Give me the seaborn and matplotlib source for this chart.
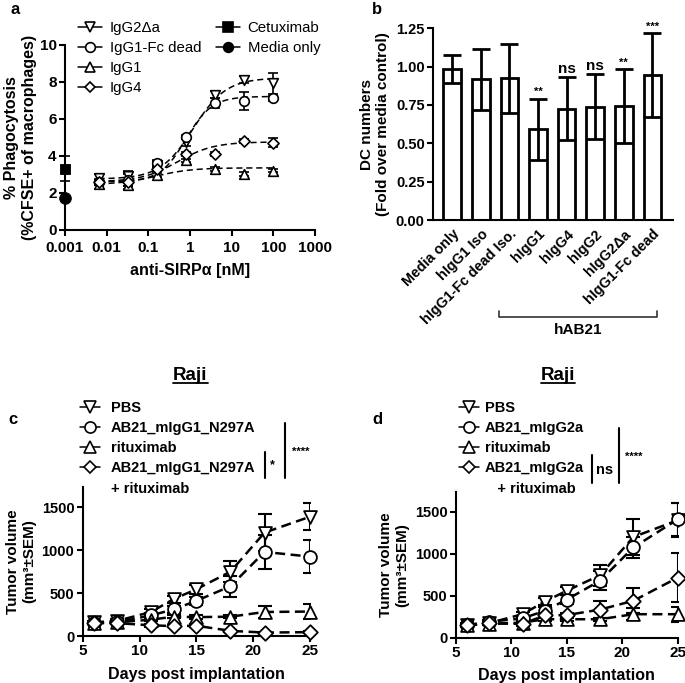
import numpy as np
import pandas as pd
import matplotlib
matplotlib.use("Agg")
import matplotlib.pyplot as plt
import matplotlib.transforms as mtransforms
from matplotlib.lines import Line2D
from matplotlib.ticker import NullLocator
import seaborn as sns

# ---- panel a: phagocytosis vs anti-SIRPa concentration ----
conc = [0.0064, 0.032, 0.16, 0.8, 4, 20, 100]
igg2da = [2.8, 2.9, 3.5, 4.75, 7.3, 8.1, 7.9]
igg2da_err = [0.2, 0.3, 0.1, 0.2, 0.2, 0.2, 0.55]
fcdead = [2.6, 2.7, 3.6, 5.0, 6.85, 6.95, 7.1]
fcdead_err = [0.15, 0.35, 0.15, 0.1, 0.25, 0.5, 0.15]
igg1 = [2.5, 2.45, 2.95, 3.75, 3.3, 3.0, 3.2]
igg1_err = [0.1, 0.1, 0.1, 0.1, 0.1, 0.1, 0.1]
igg4 = [2.6, 2.6, 3.3, 4.1, 4.1, 4.8, 4.7]
igg4_err = [0.1, 0.4, 0.1, 0.1, 0.1, 0.1, 0.25]
# fitted curve parameters: bottom, top, EC50, hill
fit_igg2da = (2.75, 8.2, 1.2, 1.1)
fit_fcdead = (2.6, 7.2, 0.8, 1.4)
fit_igg1 = (2.45, 3.35, 0.15, 1.0)
fit_igg4 = (2.6, 4.75, 0.5, 1.0)
cetux_x, cetux_y, cetux_err = 0.001, 3.3, 0.67
media_x, media_y = 0.001, 1.7

# ---- panel b: DC numbers ----
b_groups = ["Media only", "hIgG1 Iso", "hIgG1-Fc dead Iso.", "hIgG1", "hIgG4",
            "hIgG2", "hIgG2\u0394a", "hIgG1-Fc dead"]
b_means = [0.985, 0.918, 0.925, 0.592, 0.727, 0.74, 0.744, 0.944]
b_err = [0.09, 0.2, 0.225, 0.2, 0.205, 0.215, 0.24, 0.275]
b_sig = ["", "", "", "**", "ns", "ns", "**", "***"]

# ---- panels c/d: Raji tumor volume ----
days = [6, 8, 11, 13, 15, 18, 21, 25]
c_pbs = [160, 175, 280, 430, 545, 750, 1205, 1390]
c_pbs_err = [20, 20, 30, 40, 50, 125, 215, 160]
c_ab21 = [150, 160, 240, 310, 410, 580, 980, 925]
c_ab21_err = [15, 20, 30, 40, 50, 125, 200, 190]
c_ritux = [150, 160, 190, 225, 220, 225, 280, 285]
c_ritux_err = [15, 15, 20, 20, 20, 20, 70, 85]
c_combo = [150, 150, 125, 115, 120, 60, 40, 45]
c_combo_err = [15, 15, 15, 15, 15, 10, 10, 10]

d_pbs = [150, 175, 280, 430, 560, 745, 1200, 1400]
d_pbs_err = [20, 20, 30, 40, 50, 125, 210, 200]
d_ab21 = [150, 190, 230, 320, 455, 680, 1075, 1410]
d_ab21_err = [15, 20, 30, 40, 50, 110, 130, 200]
d_ritux = [150, 165, 180, 220, 220, 220, 280, 280]
d_ritux_err = [15, 15, 20, 20, 20, 20, 70, 90]
d_combo = [150, 170, 165, 265, 270, 335, 440, 715]
d_combo_err = [15, 15, 20, 30, 30, 100, 150, 290]

sns.set_theme(style="ticks")
plt.rcParams["font.family"] = ["Liberation Sans", "DejaVu Sans"]
plt.rcParams["font.weight"] = "bold"
plt.rcParams["axes.labelweight"] = "bold"
plt.rcParams["axes.linewidth"] = 1.5
plt.rcParams["xtick.major.width"] = 1.5
plt.rcParams["ytick.major.width"] = 1.5
plt.rcParams["xtick.major.size"] = 4
plt.rcParams["ytick.major.size"] = 4
plt.rcParams["xtick.color"] = "black"
plt.rcParams["ytick.color"] = "black"
plt.rcParams["axes.edgecolor"] = "black"
plt.rcParams["text.color"] = "black"
plt.rcParams["axes.labelcolor"] = "black"

W, H = 685, 683
fig = plt.figure(figsize=(6.85, 6.83), dpi=100)


def box(l, t, r, b):
    return [l / W, 1 - b / H, (r - l) / W, (b - t) / H]


def fp(x, y):
    return (x / W, 1 - y / H)


def fline(x0, y0, x1, y1, lw=1.5):
    fig.add_artist(Line2D([x0 / W, x1 / W], [1 - y0 / H, 1 - y1 / H],
                          color="black", lw=lw, transform=fig.transFigure))


ax_a = fig.add_axes(box(65, 44.5, 315, 230))
ax_b = fig.add_axes(box(433, 28.3, 673, 220))
ax_c = fig.add_axes(box(82.7, 486.7, 310, 636))
ax_d = fig.add_axes(box(456, 491.7, 677.7, 637.7))

for ax in (ax_a, ax_b, ax_c, ax_d):
    sns.despine(ax=ax)
    ax.tick_params(direction="out", pad=2)

# ---------------- panel a ----------------
series_a = [
    (igg2da, igg2da_err, "v", fit_igg2da),
    (fcdead, fcdead_err, "o", fit_fcdead),
    (igg1, igg1_err, "^", fit_igg1),
    (igg4, igg4_err, "D", fit_igg4),
]
xs = np.logspace(np.log10(conc[0]), np.log10(conc[-1]), 200)
for vals, errs, mk, (bot, top, ec50, hill) in series_a:
    curve = bot + (top - bot) / (1 + (ec50 / xs) ** hill)
    sns.lineplot(x=xs, y=curve, ax=ax_a, color="black", lw=1.1,
                 linestyle=(0, (4, 2.5)), zorder=2)
    ax_a.errorbar(conc, vals, yerr=errs, fmt="none", ecolor="black",
                  elinewidth=1.2, capsize=3.5, capthick=1.2, zorder=3)
    sns.scatterplot(x=conc, y=vals, ax=ax_a, marker=mk,
                    s=48 if mk != "D" else 32, color="white",
                    edgecolor="black", linewidth=1.2, zorder=4)
ax_a.errorbar([cetux_x], [cetux_y], yerr=[cetux_err], fmt="none", ecolor="black",
              elinewidth=1.2, capsize=3.5, capthick=1.2, clip_on=False, zorder=3)
sns.scatterplot(x=[cetux_x], y=[cetux_y], ax=ax_a, marker="s", s=60,
                color="black", edgecolor="black", clip_on=False, zorder=5)
sns.scatterplot(x=[media_x], y=[media_y], ax=ax_a, marker="o", s=70,
                color="black", edgecolor="black", clip_on=False, zorder=5)
ax_a.set_xscale("log")
ax_a.set_xlim(0.001, 1000)
ax_a.set_ylim(0, 10)
ax_a.set_xticks([0.001, 0.01, 0.1, 1, 10, 100, 1000])
ax_a.set_xticklabels(["0.001", "0.01", "0.1", "1", "10", "100", "1000"],
                     fontweight="bold", fontsize=11)
ax_a.xaxis.set_minor_locator(NullLocator())
ax_a.set_yticks([0, 2, 4, 6, 8, 10])
ax_a.set_yticklabels(["0", "2", "4", "6", "8", "10"], fontweight="bold", fontsize=11)
ax_a.tick_params(axis="x", pad=4)
ax_a.set_xlabel("anti-SIRP\u03b1 [nM]", fontsize=11.5, fontweight="bold", labelpad=6)
ax_a.set_ylabel("% Phagocytosis\n(%CFSE+ of macrophages)", fontsize=11.5,
                fontweight="bold", labelpad=2)


def hnd(mk, filled=False, ms=7, ls="-"):
    return Line2D([], [], color="black", lw=1.1, linestyle=ls, marker=mk,
                  markersize=ms, markerfacecolor="black" if filled else "white",
                  markeredgecolor="black", markeredgewidth=1.2)


fig.legend([hnd("v"), hnd("o"), hnd("^"), hnd("D", ms=5.5)],
           ["IgG2\u0394a", "IgG1-Fc dead", "IgG1", "IgG4"],
           loc="upper left", bbox_to_anchor=fp(78, 21), frameon=False,
           borderpad=0, borderaxespad=0, handlelength=1.6,
           handletextpad=0.5, labelspacing=0.4,
           prop={"size": 10.8, "weight": "normal"})
fig.legend([hnd("s", True), hnd("o", True)],
           ["Cetuximab", "Media only"],
           loc="upper left", bbox_to_anchor=fp(216, 21), frameon=False,
           borderpad=0, borderaxespad=0, handlelength=1.6,
           handletextpad=0.5, labelspacing=0.4,
           prop={"size": 10.8, "weight": "normal"})

# ---------------- panel b ----------------
df_b = pd.DataFrame({"group": b_groups, "value": b_means})
sns.barplot(data=df_b, x="group", y="value", ax=ax_b, color="white",
            saturation=1, edgecolor="black", linewidth=2, width=0.62,
            errorbar=None)
ax_b.errorbar(range(len(b_groups)), b_means, yerr=b_err, fmt="none",
              ecolor="black", elinewidth=2, capsize=6.5, capthick=2, zorder=3)
for i, s in enumerate(b_sig):
    if not s:
        continue
    if s == "ns":
        ax_b.text(i, b_means[i] + b_err[i] + 0.005, s, ha="center", va="bottom",
                  fontsize=11, fontweight="bold")
    else:
        ax_b.text(i, b_means[i] + b_err[i] + 0.01, s, ha="center", va="bottom",
                  fontsize=8, fontweight="bold")
ax_b.set_xlim(-0.67, 7.72)
ax_b.set_ylim(0, 1.25)
ax_b.set_yticks([0, 0.25, 0.5, 0.75, 1.0, 1.25])
ax_b.set_yticklabels(["0.00", "0.25", "0.50", "0.75", "1.00", "1.25"],
                     fontweight="bold", fontsize=10.5)
ax_b.set_xticks(range(len(b_groups)))
ax_b.set_xticklabels(b_groups, rotation=45, ha="right", rotation_mode="anchor",
                     fontweight="bold", fontsize=10.3)
ax_b.tick_params(axis="x", length=0, pad=5)
ax_b.set_xlabel("")
ax_b.set_ylabel("DC numbers\n(Fold over media control)", fontsize=11,
                fontweight="bold", labelpad=4)
tr = mtransforms.blended_transform_factory(ax_b.transData, ax_b.transAxes)
ax_b.plot([1.65, 1.65, 7.17, 7.17], [-0.473, -0.504, -0.504, -0.473],
          color="#333333", lw=1.2, transform=tr, clip_on=False)
ax_b.text(4.41, -0.574, "hAB21", transform=tr, ha="center", va="center",
          fontsize=11, fontweight="bold")

# ---------------- panels c, d ----------------
markers = ["v", "o", "^", "D"]


def tumor_panel(ax, series):
    for (vals, errs), mk in zip(series, markers):
        ax.errorbar(days, vals, yerr=errs, fmt="none", ecolor="black",
                    elinewidth=1.5, capsize=5, capthick=1.5, zorder=2)
        sns.lineplot(x=days, y=vals, ax=ax, color="black", lw=1.8,
                     linestyle=(0, (4, 2.2)), zorder=3)
        sns.scatterplot(x=days, y=vals, ax=ax, marker=mk,
                        s=85 if mk != "D" else 55, color="white",
                        edgecolor="black", linewidth=1.3, zorder=4, clip_on=False)
    ax.set_xlim(5, 25)
    ax.set_ylim(0, 1740)
    ax.set_xticks([5, 10, 15, 20, 25])
    ax.set_xticklabels(["5", "10", "15", "20", "25"], fontweight="bold", fontsize=11)
    ax.set_yticks([0, 500, 1000, 1500])
    ax.set_yticklabels(["0", "500", "1000", "1500"], fontweight="bold", fontsize=10.5)
    ax.set_xlabel("Days post implantation", fontsize=11.5, fontweight="bold", labelpad=6)
    ax.set_ylabel("Tumor volume\n(mm\u00b3\u00b1SEM)", fontsize=11,
                  fontweight="bold", labelpad=4)


tumor_panel(ax_c, [(c_pbs, c_pbs_err), (c_ab21, c_ab21_err),
                   (c_ritux, c_ritux_err), (c_combo, c_combo_err)])
tumor_panel(ax_d, [(d_pbs, d_pbs_err), (d_ab21, d_ab21_err),
                   (d_ritux, d_ritux_err), (d_combo, d_combo_err)])

blank = Line2D([], [], color="none")
c_handles = [hnd("v", ms=8), hnd("o", ms=8), hnd("^", ms=8), hnd("D", ms=6.5), blank]
fig.legend(c_handles, ["PBS", "AB21_mIgG1_N297A", "rituximab",
                       "AB21_mIgG1_N297A", "+ rituximab"],
           loc="upper left", bbox_to_anchor=fp(80, 401), frameon=False,
           borderpad=0, borderaxespad=0, handlelength=1.4, handletextpad=0.7,
           labelspacing=0.42, prop={"size": 10.5, "weight": "bold"})
fig.legend(c_handles, ["PBS", "AB21_mIgG2a", "rituximab",
                       "AB21_mIgG2a", "   + rituximab"],
           loc="upper left", bbox_to_anchor=fp(459, 401), frameon=False,
           borderpad=0, borderaxespad=0, handlelength=1.4, handletextpad=0.35,
           labelspacing=0.42, prop={"size": 10.5, "weight": "bold"})

# significance brackets
fline(265, 451.7, 265, 478)
fig.text(*fp(270, 465), "*", fontsize=9, ha="left", va="center")
fline(285, 423, 285, 478)
fig.text(*fp(292, 452), "****", fontsize=8, ha="left", va="center")
fline(592, 455, 592, 483)
fig.text(*fp(596, 470), "ns", fontsize=10.5, ha="left", va="center")
fline(619, 428, 619, 483)
fig.text(*fp(625, 457), "****", fontsize=8, ha="left", va="center")

# titles
for cx, (u0, u1) in [(190, (173, 208)), (558, (541, 575))]:
    fig.text(*fp(cx, 375), "Raji", fontsize=13.5, ha="center", va="center",
             fontweight="bold")
    fline(u0, 383.5, u1, 383.5, lw=1.3)

# panel letters
fig.text(*fp(15, 9), "a", fontsize=12, ha="center", va="center", fontweight="bold")
fig.text(*fp(377, 10), "b", fontsize=12, ha="center", va="center", fontweight="bold")
fig.text(*fp(13, 420), "c", fontsize=12, ha="center", va="center", fontweight="bold")
fig.text(*fp(377, 419), "d", fontsize=12, ha="center", va="center", fontweight="bold")

fig.savefig("out.png", dpi=100)
